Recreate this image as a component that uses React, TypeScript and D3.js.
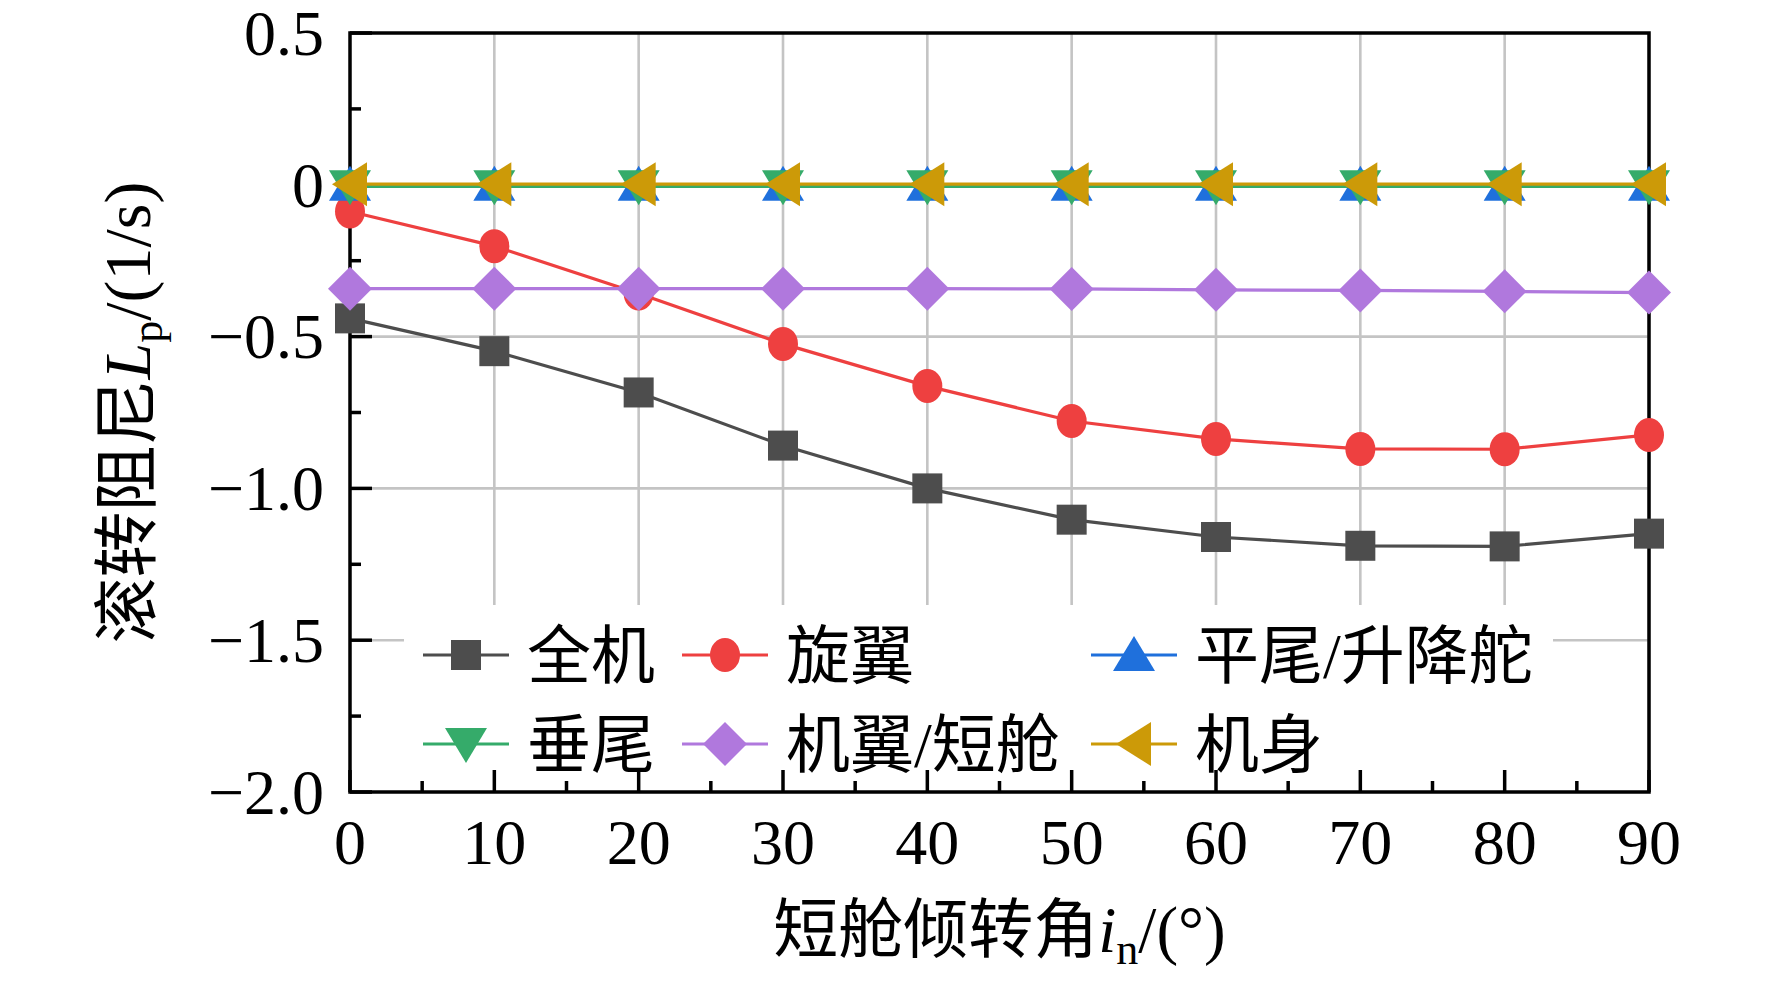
import React, { useEffect, useRef } from 'react';
import * as d3 from 'd3';

// x: nacelle tilt angle (deg)
const angles = [0, 10, 20, 30, 40, 50, 60, 70, 80, 90];

// roll damping Lp (1/s) per component
const quanji = [-0.44, -0.548, -0.684, -0.859, -1.0, -1.103, -1.16, -1.189, -1.191, -1.149];
const xuanyi = [-0.088, -0.202, -0.358, -0.524, -0.663, -0.778, -0.837, -0.87, -0.871, -0.824];
const pingwei = [0.0, 0.0, 0.0, 0.0, 0.0, 0.0, 0.0, 0.0, 0.0, 0.0];
const chuiwei = [-0.005, -0.005, -0.005, -0.005, -0.005, -0.005, -0.005, -0.005, -0.005, -0.005];
const jiyi = [-0.342, -0.342, -0.342, -0.342, -0.342, -0.343, -0.346, -0.348, -0.351, -0.355];
const jishen = [0.002, 0.002, 0.002, 0.002, 0.002, 0.002, 0.002, 0.002, 0.002, 0.002];

const seriesNames = ['全机', '旋翼', '平尾/升降舵', '垂尾', '机翼/短舱', '机身'];
const seriesValues = [quanji, xuanyi, pingwei, chuiwei, jiyi, jishen];
const seriesColors = ['#4d4d4d', '#ee4040', '#1f70dc', '#35ab6a', '#b078dd', '#cc9a08'];
const seriesMarkers = ['square', 'circle', 'up', 'down', 'diamond', 'left'];

const xTicks = [0, 10, 20, 30, 40, 50, 60, 70, 80, 90];
const yTicks = [0.5, 0, -0.5, -1.0, -1.5, -2.0];
const yTickLabels = ['0.5', '0', '\u22120.5', '\u22121.0', '\u22121.5', '\u22122.0'];

const FONT = '"Liberation Serif", "Times New Roman", "Noto Sans CJK SC", serif';

const markerPath = (kind: string) => {
  switch (kind) {
    case 'square':
      return 'M-15,-15H15V15H-15Z';
    case 'up':
      return 'M0,-19L21,16L-21,16Z';
    case 'down':
      return 'M0,19L21,-16L-21,-16Z';
    case 'left':
      return 'M-18,0L17,-22L17,22Z';
    case 'diamond':
      return 'M0,-22L22,0L0,22L-22,0Z';
    default:
      return 'M-15,0A15,17 0 1,0 15,0A15,17 0 1,0 -15,0Z';
  }
};

export default function App() {
  const svgRef = useRef<SVGSVGElement>(null);

  useEffect(() => {
    if (!svgRef.current) return;
    const svg = d3.select(svgRef.current);
    svg.selectAll('*').remove();

    const left = 350, right = 1649, top = 33, bottom = 792;

    const x = d3.scaleLinear().domain([0, 90]).range([left, right]);
    const y = d3.scaleLinear().domain([-2, 0.5]).range([bottom, top]);

    // gridlines
    const grid = svg.append('g').attr('stroke', '#c4c4c4').attr('stroke-width', 2.6);
    xTicks.slice(1).forEach(t => {
      grid.append('line').attr('x1', x(t)).attr('x2', x(t)).attr('y1', top).attr('y2', bottom);
    });
    yTicks.slice(1, -1).forEach(t => {
      grid.append('line').attr('x1', left).attr('x2', right).attr('y1', y(t)).attr('y2', y(t));
    });

    // legend background hides the grid
    svg.append('rect')
      .attr('x', 404).attr('y', 605)
      .attr('width', 1553 - 404).attr('height', bottom - 605)
      .attr('fill', 'white');

    // frame
    svg.append('rect')
      .attr('x', left).attr('y', top)
      .attr('width', right - left).attr('height', bottom - top)
      .attr('fill', 'none').attr('stroke', 'black').attr('stroke-width', 3.5);

    // ticks (inward)
    const ticks = svg.append('g').attr('stroke', 'black').attr('stroke-width', 3.5);
    d3.range(0, 91, 5).forEach(t => {
      const len = t % 10 === 0 ? 22 : 11;
      ticks.append('line').attr('x1', x(t)).attr('x2', x(t)).attr('y1', bottom).attr('y2', bottom - len);
    });
    d3.range(-2, 0.51, 0.25).forEach(t => {
      const major = Math.abs(Math.round(t * 2) - t * 2) < 1e-6;
      const len = major ? 22 : 11;
      ticks.append('line').attr('x1', left).attr('x2', left + len).attr('y1', y(t)).attr('y2', y(t));
    });

    // tick labels
    xTicks.forEach(t => {
      svg.append('text')
        .attr('x', x(t)).attr('y', 864)
        .attr('text-anchor', 'middle')
        .attr('font-family', FONT).attr('font-size', 64)
        .text(String(t));
    });
    yTicks.forEach((t, i) => {
      svg.append('text')
        .attr('x', 324).attr('y', y(t)).attr('dy', '0.34em')
        .attr('text-anchor', 'end')
        .attr('font-family', FONT).attr('font-size', 64)
        .text(yTickLabels[i]);
    });

    // axis titles
    const xt = svg.append('text')
      .attr('x', (left + right) / 2).attr('y', 952)
      .attr('text-anchor', 'middle')
      .attr('font-family', FONT).attr('font-size', 65);
    xt.append('tspan').text('短舱倾转角');
    xt.append('tspan').attr('font-style', 'italic').text('i');
    xt.append('tspan').attr('font-size', 44).attr('dy', 12).text('n');
    xt.append('tspan').attr('dy', -12).text('/(°)');

    const yt = svg.append('text')
      .attr('transform', `translate(150,${(top + bottom) / 2}) rotate(-90)`)
      .attr('text-anchor', 'middle')
      .attr('font-family', FONT).attr('font-size', 66);
    yt.append('tspan').text('滚转阻尼');
    yt.append('tspan').attr('font-style', 'italic').text('L');
    yt.append('tspan').attr('font-size', 44).attr('dy', 12).text('p');
    yt.append('tspan').attr('dy', -12).text('/(1/s)');

    // series
    const line = d3.line<number>()
      .x((_, i) => x(angles[i]))
      .y(d => y(d));

    seriesValues.forEach((vals, si) => {
      const g = svg.append('g');
      g.append('path')
        .datum(vals)
        .attr('fill', 'none')
        .attr('stroke', seriesColors[si])
        .attr('stroke-width', 3.2)
        .attr('d', line);
      vals.forEach((v, i) => {
        g.append('path')
          .attr('transform', `translate(${x(angles[i])},${y(v)})`)
          .attr('d', markerPath(seriesMarkers[si]))
          .attr('fill', seriesColors[si]);
      });
    });

    // legend
    const colX = [466, 725, 1134];
    const rowY = [655, 744];
    seriesNames.forEach((name, i) => {
      const cx = colX[i % 3];
      const cy = rowY[Math.floor(i / 3)];
      const g = svg.append('g');
      g.append('line')
        .attr('x1', cx - 43).attr('x2', cx + 43)
        .attr('y1', cy).attr('y2', cy)
        .attr('stroke', seriesColors[i]).attr('stroke-width', 3.2);
      g.append('path')
        .attr('transform', `translate(${cx},${cy})`)
        .attr('d', markerPath(seriesMarkers[i]))
        .attr('fill', seriesColors[i]);
      g.append('text')
        .attr('x', cx + 61).attr('y', cy).attr('dy', '0.36em')
        .attr('font-family', FONT).attr('font-size', 64)
        .text(name);
    });
  }, []);

  return (
    <div style={{ position: 'fixed', left: 0, top: 0, background: 'white' }}>
      <svg ref={svgRef} width={1772} height={983} />
    </div>
  );
}
